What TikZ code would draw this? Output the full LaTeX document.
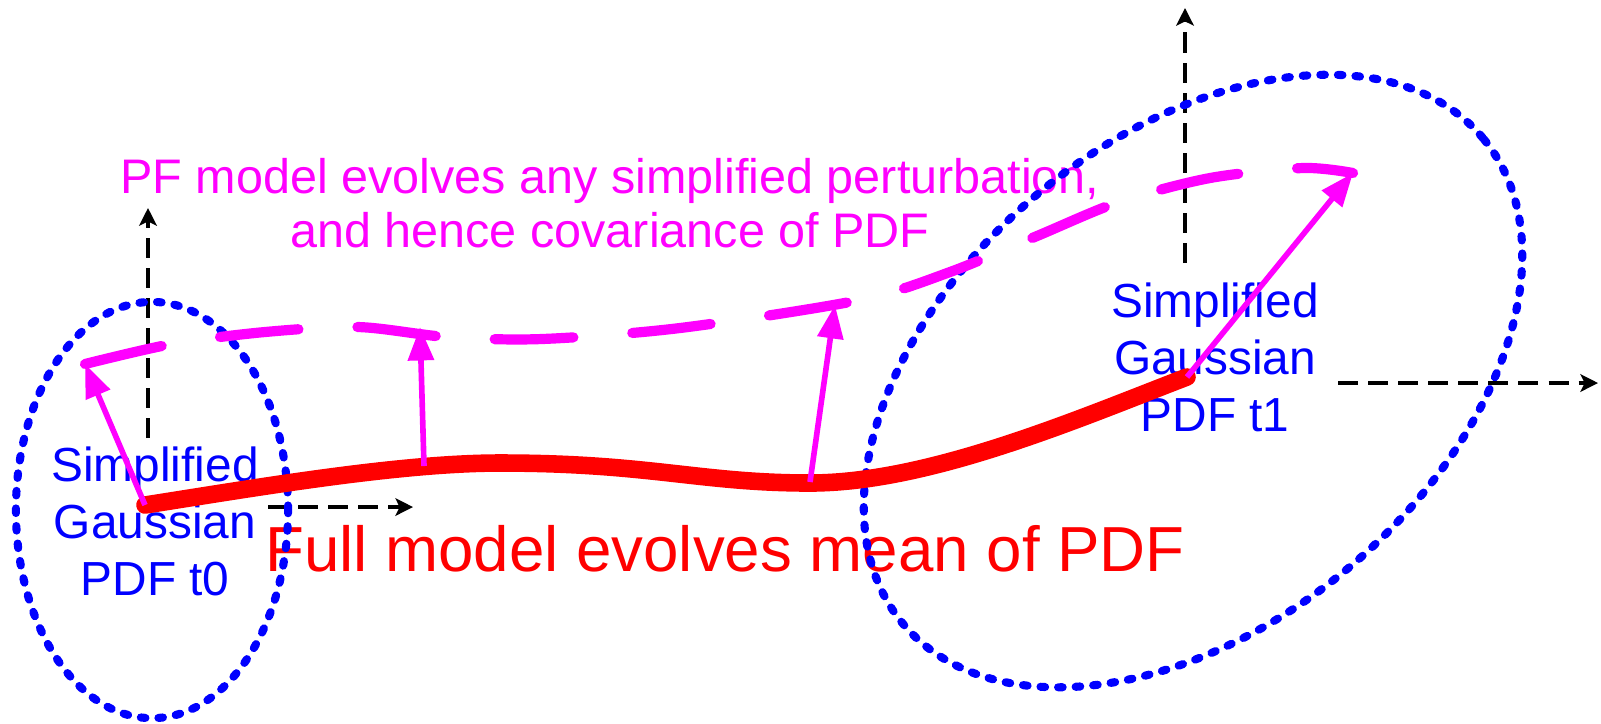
\documentclass[tikz,border=0pt]{standalone}
\usepackage{fontspec}
\setmainfont{Liberation Sans}
\usetikzlibrary{arrows.meta}
\definecolor{mag}{RGB}{255,0,255}
\definecolor{pblue}{RGB}{0,0,255}
\definecolor{pred}{RGB}{255,0,0}
\begin{document}
\begin{tikzpicture}[x=0.01cm,y=-0.01cm,
  gausslabel/.style={text=pblue, align=center, font=\fontsize{13.6pt}{16.2pt}\selectfont, inner sep=0pt},
  pflabel/.style={text=mag, font=\fontsize{13.8pt}{15.4pt}\selectfont, inner sep=0pt, anchor=base},
  meanlabel/.style={text=pred, font=\fontsize{18.1pt}{20pt}\selectfont, inner sep=0pt, anchor=base},
  axis/.style={black, line width=1.2pt, dash pattern=on 5.7pt off 2.85pt, -{Stealth[length=5pt,width=5pt,inset=1.2pt]}},
  pdfshape/.style={pblue, line width=2.3pt, line cap=round, dash pattern=on 1.3pt off 3.7pt},
  meanpath/.style={pred, line width=5pt, line cap=round},
  covpath/.style={mag, line width=2.9pt, line cap=round, dash pattern=on 22.4pt off 16.8pt},
  pert/.style={mag, line width=1.6pt, -{Triangle[length=9.5pt,width=7.2pt]}}
]
\useasboundingbox (0,0) rectangle (1601,723);

% texts
\node[gausslabel] (g0) at (155,521) {Simplified\\Gaussian\\PDF t0};
\node[gausslabel] (g1) at (1215,357) {Simplified\\Gaussian\\PDF t1};
\node[pflabel] (pf1) at (610,193) {PF model evolves any simplified perturbation,};
\node[pflabel] (pf2) at (610,247) {and hence covariance of PDF};
\node[meanlabel] (full) at (725,571) {Full model evolves mean of PDF};

% key points
\coordinate (m0) at (145,505);
\coordinate (mA) at (500,463);
\coordinate (mB) at (810,483);
\coordinate (m1) at (1187,377);
\coordinate (p0) at (85,364);
\coordinate (p1) at (420,327);
\coordinate (p2) at (835,305);
\coordinate (p3) at (1353,173);
\coordinate (q1) at (424,466);
\coordinate (q2) at (810,482);

% axes
\coordinate (o0v) at (148,438); \coordinate (y0) at (148,208);
\coordinate (o0h) at (268,507); \coordinate (x0) at (413,507);
\coordinate (o1v) at (1185,263); \coordinate (y1) at (1185,8);
\coordinate (o1h) at (1338,383); \coordinate (x1) at (1598,383);
\draw[axis] (o0v) -- (y0);
\draw[axis] (o0h) -- (x0);
\draw[axis] (o1v) -- (y1);
\draw[axis] (o1h) -- (x1);

% PDF shapes
\draw[pdfshape] (152,510) ellipse [x radius=1.36cm, y radius=2.08cm];
\draw[pdfshape, rotate around={40:(1193,381)}] (1193,381) ellipse [x radius=3.78cm, y radius=2.43cm];

% mean trajectory
\draw[meanpath] (m0) .. controls (260,487) and (400,463) .. (mA)
  .. controls (650,463) and (700,483) .. (mB)
  .. controls (930,483) and (1080,418) .. (m1);

% perturbation trajectory
\draw[covpath] plot[smooth, tension=0.5] coordinates {(p0) (172,344) (265,332) (358,327) (447,337) (542,339) (680,328) (860,300) (950,272) (1037,236) (1119,202) (1210,178) (1303,168) (p3)};

% perturbation arrows
\draw[pert] (m0) -- (p0);
\draw[pert] (q1) -- (p1);
\draw[pert] (q2) -- (p2);
\draw[pert] (m1) -- (p3);
\end{tikzpicture}
\end{document}
